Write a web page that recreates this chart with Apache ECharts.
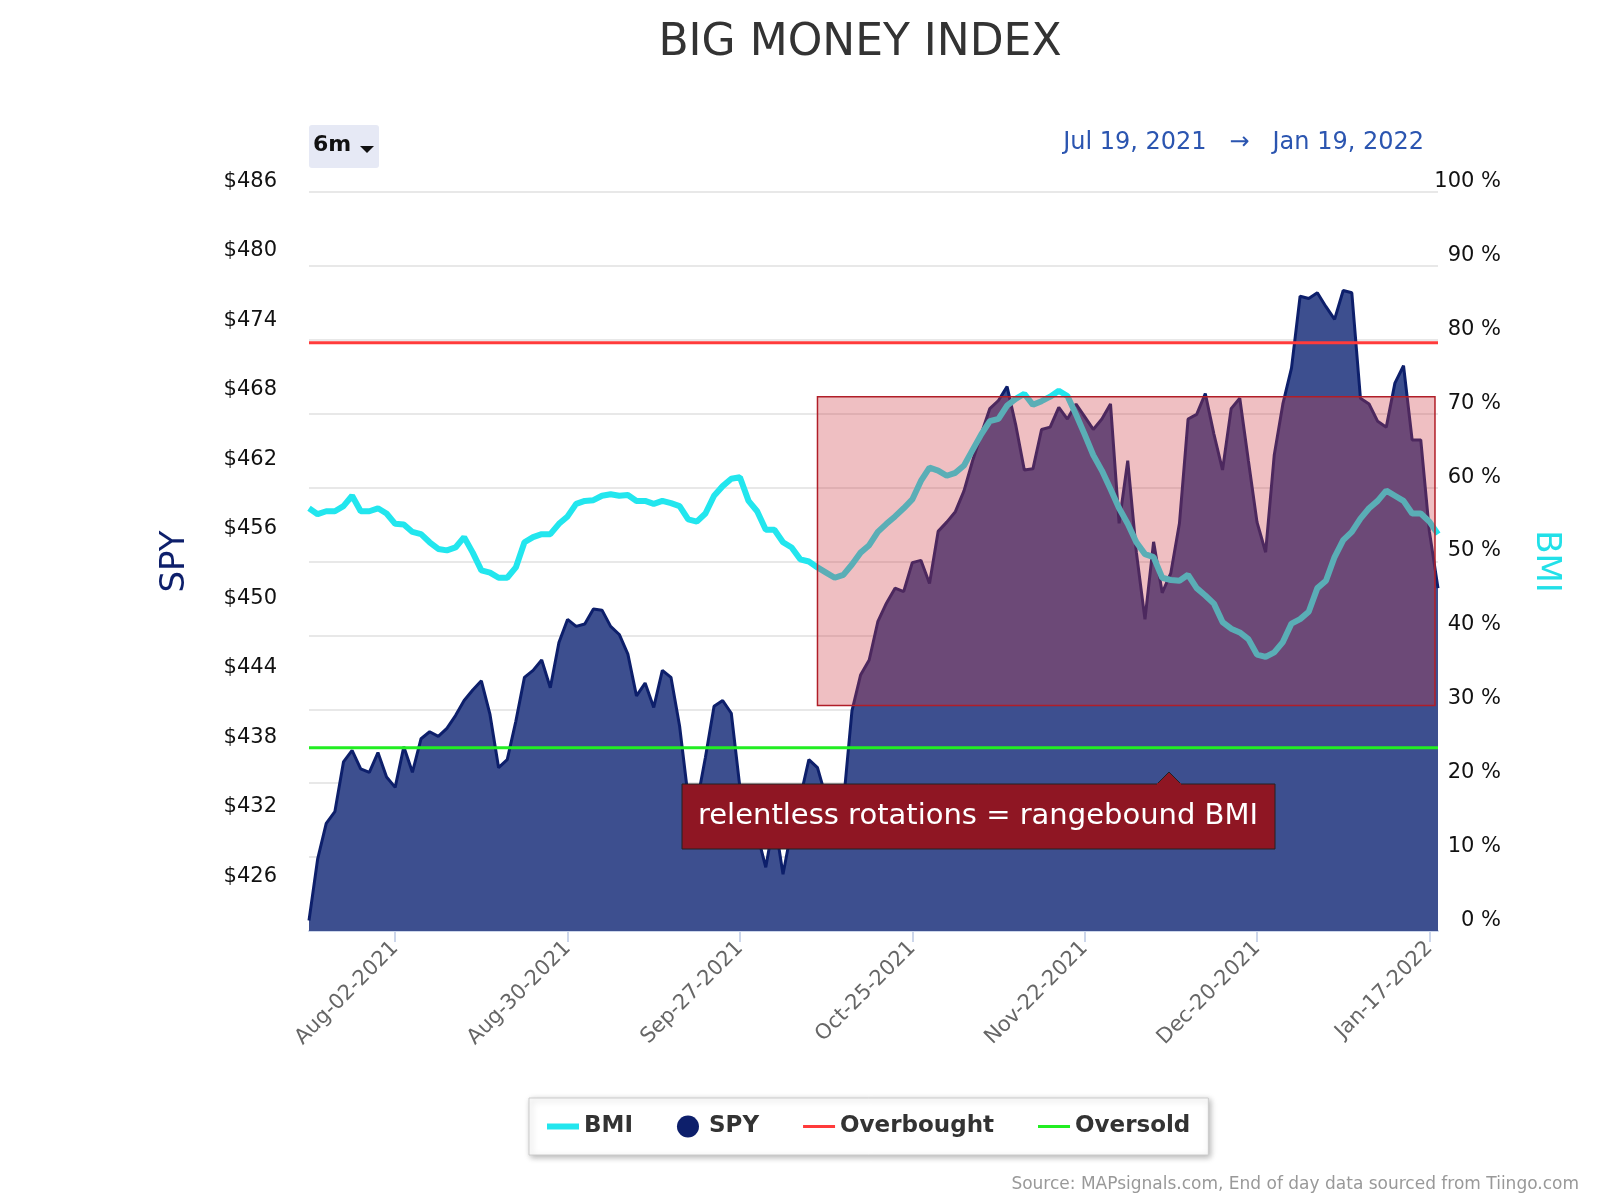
<!DOCTYPE html>
<html><head><meta charset="utf-8">
<script src="https://cdn.jsdelivr.net/npm/echarts@6/dist/echarts.min.js"></script>
<style>html,body{margin:0;padding:0;background:#fff}#c{width:1600px;height:1200px}</style>
</head><body><div id="c"></div>
<script>
const startDate = '2021-07-19';
const endDate = '2022-01-18';
const tickLabels = ['Aug-02-2021','Aug-30-2021','Sep-27-2021','Oct-25-2021','Nov-22-2021','Dec-20-2021','Jan-17-2022'];
const spyTicks = [426,432,438,444,450,456,462,468,474,480,486];
const spy = [423.1,428.4,431.5,432.5,436.8,437.8,436.2,435.9,437.6,435.5,
434.6,438.1,435.9,438.8,439.4,439.0,439.7,440.8,442.1,443.0,
443.8,440.9,436.3,437.0,440.3,444.1,444.7,445.6,443.2,447.1,
449.1,448.5,448.7,450.0,449.9,448.5,447.8,446.1,442.5,443.6,
441.5,444.7,444.1,439.9,433.7,433.2,437.2,441.6,442.1,441.0,
434.6,432.8,430.6,427.7,431.9,427.1,431.0,433.7,437.0,436.3,
433.7,431.9,433.2,441.2,444.3,445.6,448.9,450.5,451.8,451.5,
454.0,454.2,452.2,456.7,457.5,458.4,460.2,462.8,465.1,467.3,
468.0,469.2,465.9,462.0,462.1,465.5,465.7,467.4,466.4,467.7,
466.6,465.5,466.4,467.7,457.4,462.8,454.9,449.1,455.8,451.4,
453.1,457.4,466.4,466.8,468.6,465.1,462.0,467.3,468.2,462.8,
457.5,454.9,463.3,467.7,470.8,477.0,476.8,477.3,476.1,475.0,
477.5,477.3,468.2,467.7,466.2,465.7,469.5,471.0,464.6,464.6,
456.7,451.8];
const bmi = [57.2,56.4,56.8,56.8,57.5,58.9,56.8,56.8,57.2,56.5,
55.1,55.0,54.0,53.7,52.6,51.7,51.5,51.9,53.3,51.2,
48.8,48.5,47.8,47.8,49.2,52.6,53.3,53.7,53.7,55.1,
56.1,57.8,58.2,58.3,58.9,59.1,58.9,59.0,58.2,58.2,
57.8,58.2,57.9,57.5,55.7,55.4,56.5,58.9,60.2,61.2,
61.4,58.2,56.8,54.3,54.3,52.6,51.9,50.3,50.0,49.2,
48.5,47.8,48.2,49.6,51.2,52.2,54.0,55.1,56.1,57.2,
58.4,60.9,62.7,62.3,61.6,62.0,63.0,65.1,67.2,69.0,
69.3,71.1,72.0,72.7,71.2,71.7,72.3,73.1,72.4,69.9,
67.2,64.4,62.3,59.8,57.2,55.1,52.6,51.0,50.6,47.8,
47.5,47.4,48.2,46.4,45.4,44.3,41.8,40.9,40.4,39.5,
37.4,37.1,37.7,39.1,41.6,42.2,43.2,46.4,47.4,50.6,
52.9,54.0,55.8,57.2,58.2,59.6,58.9,58.2,56.5,56.5,
55.4,53.7];
const overbought = 79.6;
const oversold = 24.8;
const rangeBox = [[59, 72.3, 130.65, 30.5]];

const mon=['Jan','Feb','Mar','Apr','May','Jun','Jul','Aug','Sep','Oct','Nov','Dec'];
const dates=[];
for(let d=new Date(startDate+'T12:00:00Z');d<=new Date(endDate+'T12:00:00Z');d.setUTCDate(d.getUTCDate()+1)){
  const w=d.getUTCDay(); if(w===0||w===6) continue;
  dates.push(mon[d.getUTCMonth()]+'-'+String(d.getUTCDate()).padStart(2,'0')+'-'+d.getUTCFullYear());
}
const ob = dates.map(()=>overbought), os = dates.map(()=>oversold);
const F='"DejaVu Sans", Verdana, sans-serif';
const chart=echarts.init(document.getElementById('c'));
chart.setOption({
  animation:false,
  textStyle:{fontFamily:F},
  title:{text:'BIG MONEY INDEX',left:855,textAlign:'center',top:17,textStyle:{fontSize:44,fontWeight:'normal',color:'#333',fontFamily:F}},
  grid:{left:309,right:162,top:192,bottom:269},
  legend:{bottom:45,left:529,padding:[17,18],itemGap:44,backgroundColor:'#fff',borderColor:'#ccc',borderWidth:1,
    shadowColor:'rgba(0,0,0,0.3)',shadowBlur:6,shadowOffsetX:2,shadowOffsetY:2,
    textStyle:{fontSize:23,fontWeight:'bold',color:'#333',fontFamily:F},itemWidth:32,itemHeight:22,
    data:[{name:'BMI',icon:'path://M0,8 L32,8 L32,14 L0,14 Z'},{name:'SPY',icon:'circle'},
      {name:'Overbought',icon:'path://M0,9.5 L32,9.5 L32,12.5 L0,12.5 Z'},{name:'Oversold',icon:'path://M0,9.5 L32,9.5 L32,12.5 L0,12.5 Z'}]},
  xAxis:{type:'category',data:dates,boundaryGap:false,
    axisLine:{lineStyle:{color:'#ccd6eb',width:2}},
    axisTick:{interval:(i,v)=>tickLabels.includes(v),length:11,lineStyle:{color:'#ccd6eb',width:2}},
    axisLabel:{interval:(i,v)=>tickLabels.includes(v),rotate:45,fontSize:21,color:'#666',margin:14}},
  yAxis:[
    {type:'value',min:422.2,max:486,position:'left',name:'SPY',nameLocation:'middle',nameGap:117,nameRotate:90,
     nameTextStyle:{fontSize:34,color:'#0d1f6b'},
     splitLine:{show:false},axisLine:{show:false},axisTick:{show:false},
     axisLabel:{customValues:spyTicks,formatter:v=>'$'+Math.round(v),fontSize:21,color:'#111',margin:32,verticalAlign:'bottom'}},
    {type:'value',min:0,max:100,interval:10,position:'right',name:'BMI',nameLocation:'middle',nameGap:91,nameRotate:-90,
     nameTextStyle:{fontSize:34,color:'#22e0e8'},
     splitLine:{lineStyle:{color:'#e0e0e0',width:1.5}},axisLine:{show:false},axisTick:{show:false},
     axisLabel:{formatter:v=>v+' %',fontSize:21,color:'#111',align:'right',margin:63,verticalAlign:'bottom'}}
  ],
  series:[
    {name:'SPY',type:'line',yAxisIndex:0,data:spy,symbol:'none',z:1,color:'#0d1f6b',
     lineStyle:{color:'#0d1f6b',width:3},areaStyle:{color:'#3d4f8f',opacity:1,origin:'start'}},
    {name:'BMI',type:'line',yAxisIndex:1,data:bmi,symbol:'none',z:2,color:'#22e6ee',
     lineStyle:{color:'#22e6ee',width:6}},
    {name:'Overbought',type:'line',yAxisIndex:1,data:ob,symbol:'none',z:3,color:'#ff3b3b',lineStyle:{color:'#ff3b3b',width:3}},
    {name:'Oversold',type:'line',yAxisIndex:1,data:os,symbol:'none',z:3,color:'#22ee22',lineStyle:{color:'#22ee22',width:3}},
    {name:'box',type:'custom',yAxisIndex:1,z:5,silent:true,data:rangeBox,
     renderItem:(p,api)=>{
       const x0=p.coordSys.x, w=p.coordSys.width, n=dates.length-1;
       const xa=x0+w*api.value(0)/n, xb=x0+w*api.value(2)/n;
       const ya=api.coord([0,api.value(1)])[1], yb=api.coord([0,api.value(3)])[1];
       return {type:'rect',shape:{x:xa,y:ya,width:xb-xa,height:yb-ya},
         style:{fill:'rgba(205,60,70,0.33)',stroke:'#b01e28',lineWidth:1.5}};
     }}
  ],
  graphic:[
    {type:'rect',left:309,top:125,shape:{width:70,height:43,r:3},style:{fill:'#e6e9f5'}},
    {type:'text',left:313,top:134,style:{text:'6m',font:'bold 22px '+F,fill:'#111'}},
    {type:'polygon',shape:{points:[[360,146],[374,146],[367,153]]},style:{fill:'#111'}},
    {type:'text',right:176,top:131,style:{text:'Jul 19, 2021   →   Jan 19, 2022',font:'24px '+F,fill:'#2b55b0'}},
    {type:'group',z:100,children:[
      {type:'polygon',z:100,shape:{points:[[1156,785],[1169,772],[1182,785]]},style:{fill:'#8f1623',stroke:'#222',lineWidth:1}},
      {type:'rect',z:100,shape:{x:682,y:784,width:593,height:65},style:{fill:'#8f1623',stroke:'#222',lineWidth:1}},
      {type:'rect',z:101,shape:{x:1157,y:783,width:24,height:3},style:{fill:'#8f1623'}},
      {type:'text',z:102,x:978,y:816,style:{text:'relentless rotations = rangebound BMI',font:'29px '+F,fill:'#fff',align:'center',verticalAlign:'middle'}}
    ]},
    {type:'text',right:21,top:1176,style:{text:'Source: MAPsignals.com, End of day data sourced from Tiingo.com',font:'17px '+F,fill:'#999'}}
  ]
});
</script></body></html>
